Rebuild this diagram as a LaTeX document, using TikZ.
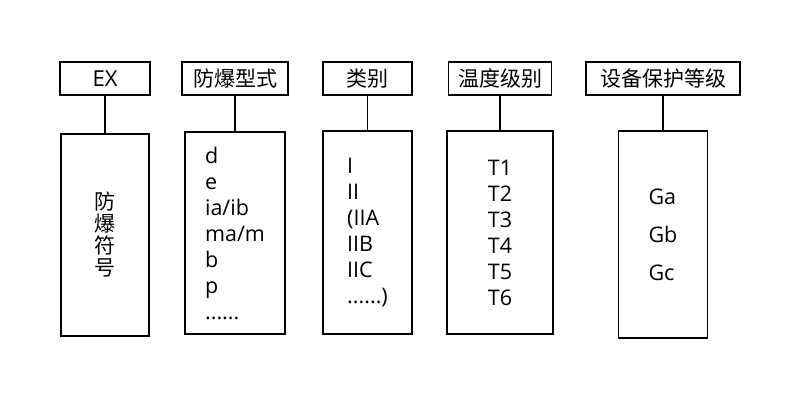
\documentclass[tikz,border=0pt]{standalone}
\usepackage{fontspec}
\setmainfont{Open Sans}
\newfontfamily\cjk{Noto Sans CJK SC}
\usetikzlibrary{positioning}

\tikzset{
    header/.style={draw, line width=1.3pt, minimum height=33pt, inner sep=0pt, outer sep=0pt,
        font=\cjk\fontsize{21}{22}\selectfont},
    body/.style={draw, line width=1.3pt, inner sep=0pt, outer sep=0pt, align=left,
        font=\fontsize{21.5}{26}\selectfont},
    link/.style={line width=1.3pt}
}

\begin{document}
\begin{tikzpicture}[x=1pt,y=-1pt]
        \useasboundingbox (0,0) rectangle (800,408);
        \node[header, minimum width=90pt, font=\fontsize{22}{22}\selectfont] (ex) at (105,78.5) {EX};
        \node[header, minimum width=106pt] (type) at (235,78.5) {防爆型式};
        \node[header, minimum width=89pt] (group) at (367.5,78.5) {类别};
        \node[header, minimum width=103pt] (temp) at (500,78.5) {温度级别};
        \node[header, minimum width=154pt] (epl) at (663,78.5) {设备保护等级};
        \node[body, minimum width=88pt, minimum height=202pt, below=39pt of ex, align=center,
            font=\cjk\fontsize{21}{22}\selectfont] (exbody) {防\\爆\\符\\号};
        \node[body, minimum width=100pt, minimum height=202pt, below=37pt of type] (typebody)
            {d\\e\\ia/ib\\ma/m\\b\\p\\......};
        \node[body, minimum width=89pt, minimum height=203pt, below=36pt of group] (groupbody)
            {I\\II\\(IIA\\IIB\\IIC\\......)};
        \node[body, minimum width=106pt, minimum height=203pt, below=36pt of temp] (tempbody)
            {T1\\T2\\T3\\T4\\T5\\T6};
        \node[body, minimum width=89pt, minimum height=207pt, below=36pt of epl,
            font=\fontsize{21.5}{38}\selectfont] (eplbody) {Ga\\Gb\\Gc};
        \path[link]
            (ex) edge (exbody)
            (type) edge (typebody)
            (group) edge (groupbody)
            (temp) edge (tempbody)
            (epl) edge (eplbody);
    \end{tikzpicture}
\end{document}
